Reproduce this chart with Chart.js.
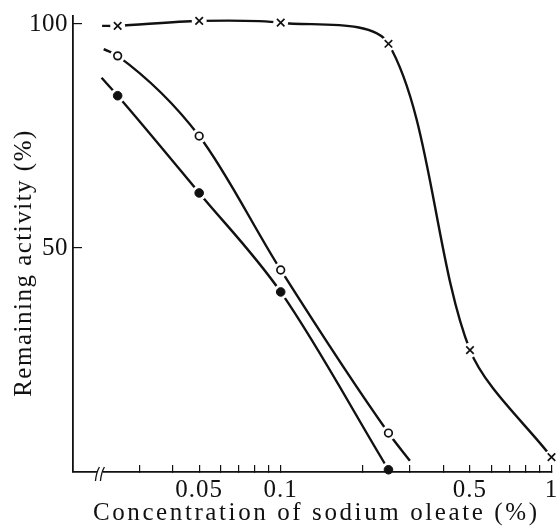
<!DOCTYPE html>
<html><head><meta charset="utf-8">
<script src="https://cdn.jsdelivr.net/npm/chart.js@4.4.0/dist/chart.umd.min.js"></script>
<style>html,body{margin:0;padding:0;background:#fff}canvas{display:block}</style>
</head><body><canvas id="c" width="559" height="532"></canvas>
<script>
// ---- data ----
const crossX = [0.025, 0.05, 0.1, 0.25, 0.5, 1.0];
const crossY = [99.6, 100.7, 100.3, 95.6, 27.2, 3.3];
const openX = [0.025, 0.05, 0.1, 0.25];
const openY = [92.9, 75.0, 45.1, 8.7];
const filledX = [0.025, 0.05, 0.1, 0.25];
const filledY = [84.0, 62.3, 40.2, 0.5];
// visible ends of the drawn curves beyond the markers
const crossLineStart = [0.0219, 99.6];
const openLineStart = [0.0222, 94.4];
const openLineEnd = [0.3, 2.5];
const filledLineStart = [0.0218, 88.0];
// axes
const xTickValues = [0.03,0.04,0.05,0.06,0.07,0.08,0.09,0.1,0.2,0.3,0.4,0.5,0.6,0.7,0.8,0.9,1];
const xLabelValues = [0.05, 0.1, 0.5, 1];
const xLabelTexts = ['0.05', '0.1', '0.5', '1'];
const yTickValues = [50, 100];
const axisBreakX = 0.0215;

const INK = '#111';
const FAMILY = "'Liberation Serif', 'Times New Roman', serif";
const pts = (xs, ys) => xs.map((x, i) => ({x: x, y: ys[i]}));

const lineBase = {borderColor: INK, borderWidth: 2.4, pointRadius: 0, pointHoverRadius: 0,
  cubicInterpolationMode: 'monotone', fill: false, order: 3, clip: false};
const haloBase = {showLine: false, pointRadius: 7.5, pointHoverRadius: 7.5, pointBackgroundColor: '#fff',
  pointBorderColor: '#fff', pointBorderWidth: 0, borderWidth: 0, order: 2, clip: false};
const markBase = {showLine: false, borderColor: INK, pointBorderColor: INK, order: 1, clip: false};

const datasets = [
  Object.assign({}, lineBase, {label: 'x-line', cubicInterpolationMode: 'default', tension: 0.3,
    data: pts([crossLineStart[0], ...crossX], [crossLineStart[1], ...crossY])}),
  Object.assign({}, lineBase, {label: 'o-line', data: pts([openLineStart[0], ...openX, openLineEnd[0]], [openLineStart[1], ...openY, openLineEnd[1]])}),
  Object.assign({}, lineBase, {label: 'f-line', data: pts([filledLineStart[0], ...filledX], [filledLineStart[1], ...filledY])}),
  Object.assign({}, haloBase, {label: 'x-halo', data: pts(crossX, crossY)}),
  Object.assign({}, haloBase, {label: 'o-halo', data: pts(openX, openY)}),
  Object.assign({}, haloBase, {label: 'f-halo', data: pts(filledX, filledY)}),
  Object.assign({}, markBase, {label: 'cross', data: pts(crossX, crossY), pointStyle: 'crossRot', pointRadius: 5.3, pointHoverRadius: 5.3, pointBorderWidth: 1.7}),
  Object.assign({}, markBase, {label: 'open', data: pts(openX, openY), pointStyle: 'circle', pointRadius: 3.8, pointHoverRadius: 3.8, pointBorderWidth: 1.7, pointBackgroundColor: '#fff'}),
  Object.assign({}, markBase, {label: 'filled', data: pts(filledX, filledY), pointStyle: 'circle', pointRadius: 4.3, pointHoverRadius: 4.3, pointBorderWidth: 1, pointBackgroundColor: INK})
];

const spacingPlugin = {
  id: 'spacing',
  afterUpdate(chart) {
    const ctx = chart.ctx;
    const cfg = {x: {title: 2.6, labels: 1, dx: 4, dy: 0}, y: {title: 1.5, labels: 0.5, dx: 0, dy: 19}};
    for (const id of ['x', 'y']) {
      const s = chart.scales[id];
      if (!s || s._wrapped) continue;
      s._wrapped = true;
      const c = cfg[id];
      const oT = s.drawTitle, oL = s.drawLabels;
      s.drawTitle = function () { ctx.save(); ctx.letterSpacing = c.title + 'px'; ctx.translate(c.dx, c.dy); oT.apply(this, arguments); ctx.restore(); };
      s.drawLabels = function () { ctx.save(); ctx.letterSpacing = c.labels + 'px'; oL.apply(this, arguments); ctx.restore(); };
    }
  },
  afterDraw(chart) {
    const ctx = chart.ctx;
    const px = chart.scales.x.getPixelForValue(axisBreakX);
    const py = chart.chartArea.bottom;
    ctx.save();
    ctx.fillStyle = '#fff';
    ctx.fillRect(px - 3, py - 2, 6, 4);
    ctx.strokeStyle = INK; ctx.lineWidth = 1.3;
    for (const d of [-2.5, 2.5]) {
      ctx.beginPath();
      ctx.moveTo(px + d + 2, py - 5);
      ctx.quadraticCurveTo(px + d - 1, py, px + d - 2, py + 9);
      ctx.stroke();
    }
    ctx.restore();
  }
};

new Chart(document.getElementById('c'), {
  type: 'line',
  data: {datasets: datasets},
  plugins: [spacingPlugin],
  options: {
    responsive: false, animation: false, devicePixelRatio: 1,
    layout: {padding: {top: 16, right: 2, left: 0, bottom: 0}},
    plugins: {legend: {display: false}, tooltip: {enabled: false}},
    events: [],
    scales: {
      x: {
        type: 'logarithmic', min: 0.0171, max: 1,
        afterBuildTicks: s => { s.ticks = xTickValues.map(v => ({value: v})); },
        afterFit: s => { s.height = 60; s.paddingLeft = 0; s.paddingRight = 0; },
        ticks: {autoSkip: false, maxRotation: 0, minRotation: 0, color: INK, padding: 10,
          font: {family: FAMILY, size: 25},
          callback: v => { const i = xLabelValues.findIndex(l => Math.abs(l - v) < 1e-6 * l + 1e-9); return i >= 0 ? xLabelTexts[i] : ''; }},
        grid: {drawOnChartArea: false, drawTicks: true, tickLength: -7, color: INK, lineWidth: 1.2},
        border: {color: INK, width: 1.8, z: 1},
        title: {display: true, text: 'Concentration of sodium oleate (%)', color: INK,
          font: {family: FAMILY, size: 25}, padding: {top: 0, bottom: 4}}
      },
      y: {
        type: 'linear', min: 0, max: 101.8,
        afterBuildTicks: s => { s.ticks = yTickValues.map(v => ({value: v})); },
        afterFit: s => { s.width = 73; s.paddingTop = 0; s.paddingBottom = 0; },
        ticks: {color: INK, padding: 14, font: {family: FAMILY, size: 25}},
        grid: {drawOnChartArea: false, drawTicks: true, tickLength: -9, color: INK, lineWidth: 1.2},
        border: {color: INK, width: 1.8, z: 1},
        title: {display: true, text: 'Remaining activity (%)', color: INK,
          font: {family: FAMILY, size: 25}, padding: {top: 9.5, bottom: 0}}
      }
    }
  }
});
</script>
</body></html>
